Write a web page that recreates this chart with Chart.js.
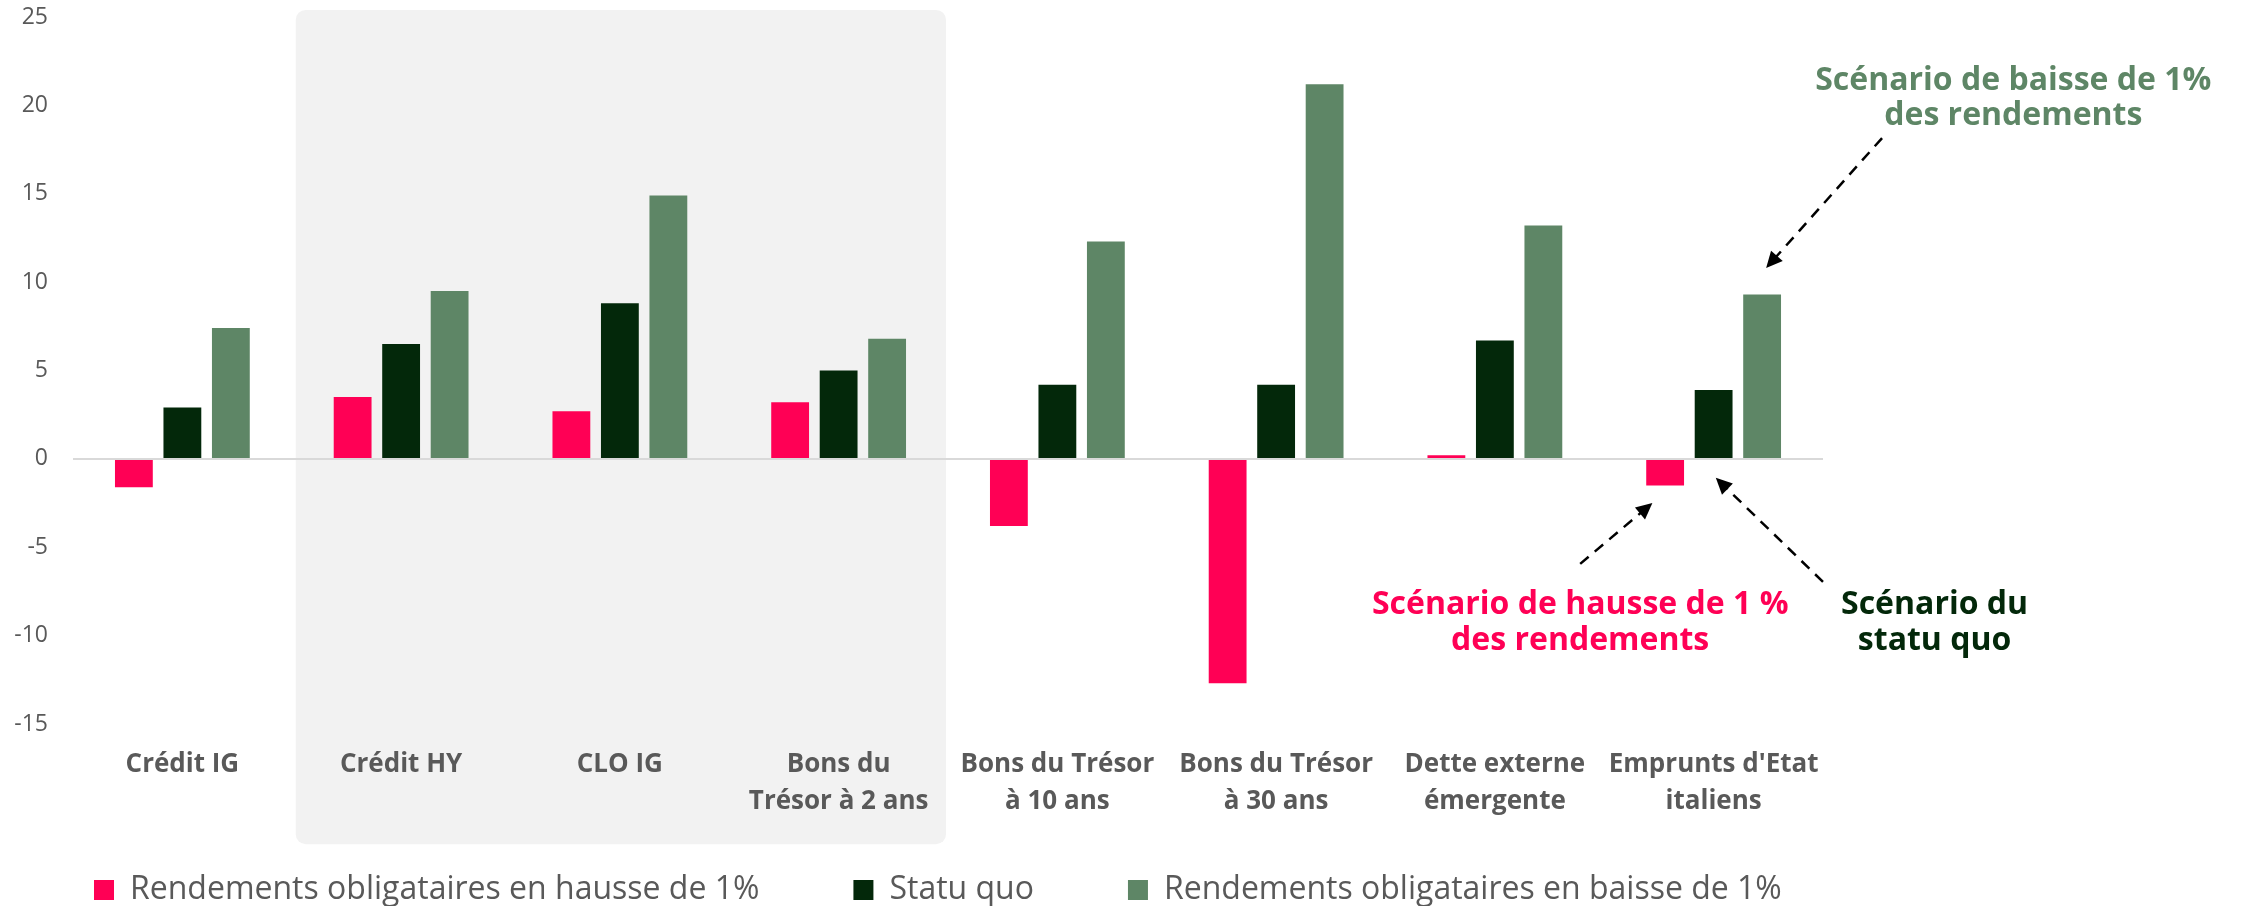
<!DOCTYPE html>
<html>
<head>
<meta charset="utf-8">
<script src="https://cdn.jsdelivr.net/npm/chart.js@4.4.1/dist/chart.umd.min.js"></script>
<style>
  body { margin: 0; background: #fff; }
  #wrap { width: 2241px; height: 906px; }
</style>
</head>
<body>
<div id="wrap"><canvas id="chart"></canvas></div>
<script>
const categories = [
    ['Crédit IG'], ['Crédit HY'], ['CLO IG'], ['Bons du', 'Trésor à 2 ans'],
    ['Bons du Trésor', 'à 10 ans'], ['Bons du Trésor', 'à 30 ans'],
    ['Dette externe', 'émergente'], ["Emprunts d'Etat", 'italiens']
];
const seriesNames = ['Rendements obligataires en hausse de 1%', 'Statu quo', 'Rendements obligataires en baisse de 1%'];
const hausse = [-1.6, 3.5, 2.7, 3.2, -3.8, -12.7, 0.2, -1.5];
const statuQuo = [2.9, 6.5, 8.8, 5.0, 4.2, 4.2, 6.7, 3.9];
const baisse = [7.4, 9.5, 14.9, 6.8, 12.3, 21.2, 13.2, 9.3];
const yMin = -15, yMax = 25, yStep = 5;

const PINK = '#ff0055', DARK = '#03280a', GREEN = '#5e8666', GREY = '#595959';

// callouts, placed in data units (category index, value)
const notes = [
    { lines: ['Scénario de baisse de 1%', 'des rendements'], color: GREEN, x: 8.37, y: [21.4, 19.4] },
    { lines: ['Scénario de hausse de 1 %', 'des rendements'], color: PINK, x: 6.39, y: [-8.26, -10.3] },
    { lines: ['Scénario du', 'statu quo'], color: DARK, x: 8.01, y: [-8.26, -10.3] }
];
const arrows = [
    { from: [7.77, 18.15], to: [7.24, 10.8] },
    { from: [6.39, -5.94], to: [6.72, -2.5] },
    { from: [7.50, -6.96], to: [7.01, -1.07] }
];

Chart.defaults.font.family = "'Open Sans', sans-serif";
Chart.defaults.color = GREY;

const shade = {
    id: 'shade',
    beforeDraw(chart) {
        const { ctx, scales: { x, y } } = chart;
        const l = x.getPixelForValue(0.5) + 4, r = x.getPixelForValue(3.5) - 2;
        const t = y.getPixelForValue(25.4), b = y.getPixelForValue(-21.8);
        ctx.save();
        ctx.fillStyle = '#f2f2f2';
        ctx.beginPath();
        ctx.roundRect(l, t, r - l, b - t, 10);
        ctx.fill();
        ctx.restore();
    }
};

function arrow(ctx, x1, y1, x2, y2) {
    const a = Math.atan2(y2 - y1, x2 - x1), h = 18;
    ctx.setLineDash([11, 8]);
    ctx.beginPath();
    ctx.moveTo(x1, y1);
    ctx.lineTo(x2 - Math.cos(a) * h * 0.8, y2 - Math.sin(a) * h * 0.8);
    ctx.stroke();
    ctx.setLineDash([]);
    ctx.beginPath();
    ctx.moveTo(x2, y2);
    ctx.lineTo(x2 - h * Math.cos(a - 0.45), y2 - h * Math.sin(a - 0.45));
    ctx.lineTo(x2 - h * Math.cos(a + 0.45), y2 - h * Math.sin(a + 0.45));
    ctx.closePath();
    ctx.fill();
}

const callouts = {
    id: 'callouts',
    afterDatasetsDraw(chart) {
        const { ctx, scales: { x, y } } = chart;
        ctx.save();
        ctx.strokeStyle = '#000';
        ctx.fillStyle = '#000';
        ctx.lineWidth = 2.5;
        arrows.forEach(a => arrow(ctx,
            x.getPixelForValue(a.from[0]), y.getPixelForValue(a.from[1]),
            x.getPixelForValue(a.to[0]), y.getPixelForValue(a.to[1])));
        ctx.font = "bold 32px 'Open Sans', sans-serif";
        ctx.textAlign = 'center';
        ctx.textBaseline = 'middle';
        notes.forEach(n => {
            ctx.fillStyle = n.color;
            n.lines.forEach((s, i) => ctx.fillText(s, x.getPixelForValue(n.x), y.getPixelForValue(n.y[i])));
        });
        ctx.restore();
    }
};

new Chart(document.getElementById('chart'), {
    type: 'bar',
    data: {
        labels: categories,
        datasets: [
            { label: seriesNames[0], data: hausse, backgroundColor: PINK },
            { label: seriesNames[1], data: statuQuo, backgroundColor: DARK },
            { label: seriesNames[2], data: baisse, backgroundColor: GREEN }
        ]
    },
    options: {
        responsive: true,
        maintainAspectRatio: false,
        animation: false,
        categoryPercentage: 0.665,
        barPercentage: 0.78,
        layout: { padding: 0 },
        plugins: {
            tooltip: { enabled: false },
            legend: {
                position: 'bottom',
                align: 'start',
                maxHeight: 126,
                labels: {
                    padding: 94,
                    boxWidth: 20,
                    boxHeight: 20,
                    color: GREY,
                    font: { size: 32 }
                }
            }
        },
        scales: {
            x: {
                grid: { display: false },
                border: { display: false },
                ticks: {
                    autoSkip: false,
                    maxRotation: 0,
                    padding: 14,
                    color: GREY,
                    font: { size: 26, weight: 'bold', lineHeight: 1.42 }
                },
                afterFit: s => {
                    s.height = 56;
                    // labels run into the space kept for the legend, so do not clip them
                    s._computeLabelArea = () => undefined;
                }
            },
            y: {
                min: yMin,
                max: yMax,
                border: { display: false },
                grid: {
                    drawTicks: false,
                    lineWidth: 2,
                    color: c => c.tick && c.tick.value === 0 ? '#d9d9d9' : 'transparent'
                },
                ticks: { stepSize: yStep, padding: 25, color: GREY, font: { size: 23 } },
                afterFit: s => {
                    s.width = 73;
                    s.paddingTop = 17;
                    s.paddingBottom = 17;
                }
            },
            yR: {
                position: 'right',
                display: true,
                grid: { display: false },
                border: { display: false },
                ticks: { display: false },
                afterFit: s => { s.width = 418; }
            }
        }
    },
    plugins: [shade, callouts]
});
</script>
</body>
</html>
